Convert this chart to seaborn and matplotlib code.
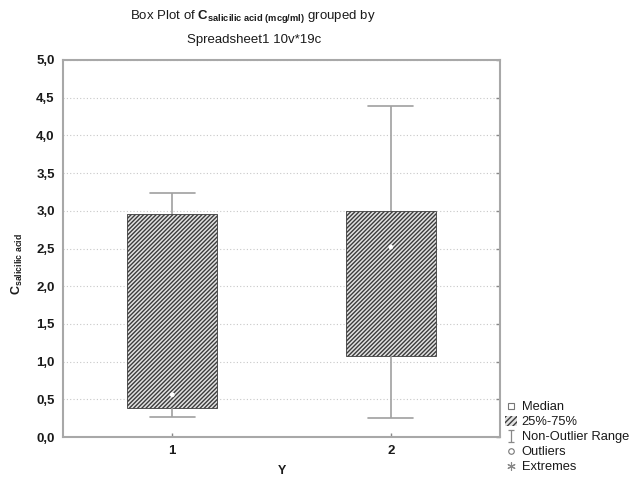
import numpy as np
import pandas as pd
import matplotlib
matplotlib.use("Agg")
import matplotlib.pyplot as plt
import seaborn as sns
from matplotlib.lines import Line2D
from matplotlib.patches import Patch
from matplotlib.path import Path
from matplotlib.ticker import FuncFormatter, MultipleLocator

# ---- data ----
categories = ["1", "2"]
whisker_low = [0.27, 0.25]
q1 = [0.38, 1.07]
median = [0.56, 2.52]
q3 = [2.96, 3.00]
whisker_high = [3.24, 4.39]
legend_labels = ["Median", "25%-75%", "Non-Outlier Range", "Outliers", "Extremes"]

rows = []
for i, c in enumerate(categories):
    for v in (whisker_low[i], q1[i], median[i], q3[i], whisker_high[i]):
        rows.append({"Y": c, "C": v})
df = pd.DataFrame(rows)
med_df = pd.DataFrame({"Y": categories, "C": median})

sns.set_theme(style="white")
plt.rcParams["font.family"] = ["Liberation Sans", "DejaVu Sans"]
plt.rcParams["mathtext.fontset"] = "custom"
plt.rcParams["mathtext.rm"] = "Liberation Sans"
plt.rcParams["mathtext.bf"] = "Liberation Sans:bold"
plt.rcParams["mathtext.it"] = "Liberation Sans:italic"
plt.rcParams["hatch.linewidth"] = 1.0

fig = plt.figure(figsize=(6.35, 4.79), dpi=100)
ax = fig.add_axes([63 / 635, 1 - 437 / 479, 437 / 635, 377 / 479])

grey = "#a0a0a0"
HATCH = "////////"
sns.boxplot(data=df, x="Y", y="C", order=categories, width=0.41,
            color="#e2e2e2", linecolor=grey, linewidth=1.2, showfliers=False,
            medianprops={"visible": False}, ax=ax)
for p in ax.patches:
    p.set_hatch(HATCH)
    p.set_facecolor("#e2e2e2")
    p.set_edgecolor("#3c3c3c")
    p.set_linewidth(0.6)

sns.scatterplot(data=med_df, x="Y", y="C", marker="o", s=12, color="white",
                edgecolor="none", linewidth=0, ax=ax, zorder=5)

ax.set_xlim(-0.5, 1.5)
ax.set_ylim(0, 5)
ax.yaxis.set_major_locator(MultipleLocator(0.5))
ax.yaxis.set_major_formatter(FuncFormatter(lambda v, p: f"{v:.1f}".replace(".", ",")))
ax.grid(axis="y", linestyle=(0, (1, 2)), color="#c8c8c8", linewidth=0.8)
ax.set_axisbelow(True)
for s in ax.spines.values():
    s.set_color("#a8a8a8")
    s.set_linewidth(1.5)
ax.tick_params(axis="both", direction="in", length=3, width=1, color="#888888",
               labelsize=9.5, labelcolor="#1a1a1a", pad=6)
ax.tick_params(axis="y", right=True, left=False)
ax.tick_params(axis="x", bottom=True)
for t in ax.get_xticklabels() + ax.get_yticklabels():
    t.set_fontweight("bold")

ax.set_xlabel("Y", fontsize=9, fontweight="bold", color="#1a1a1a")
ax.xaxis.set_label_coords(0.5, -0.075)
ax.set_ylabel(r"$\mathbf{C}_{\mathbf{salicilic\ acid}}$", fontsize=9, color="#1a1a1a")
ax.yaxis.set_label_coords(-38 / 437, 0.46)

fig.text(253 / 635, 1 - 17 / 479,
         r"Box Plot of $\mathbf{C}_{\mathbf{salicilic\ acid\ (mcg/ml)}}$ grouped by",
         ha="center", va="center", fontsize=9.5, color="#1a1a1a")
fig.text(254 / 635, 1 - 40 / 479, "Spreadsheet1 10v*19c",
         ha="center", va="center", fontsize=9.5, color="#1a1a1a")

i_marker = Path([(-0.5, 1), (0.5, 1), (0, 1), (0, -1), (-0.5, -1), (0.5, -1)],
                [Path.MOVETO, Path.LINETO, Path.MOVETO, Path.LINETO, Path.MOVETO, Path.LINETO])
handles = [
    Line2D([], [], marker="s", linestyle="none", markersize=5,
           markerfacecolor="white", markeredgecolor="#777777", markeredgewidth=0.8),
    Patch(facecolor="#e2e2e2", edgecolor="#3c3c3c", hatch="//////", linewidth=0),
    Line2D([], [], marker=i_marker, linestyle="none", markersize=9,
           markerfacecolor="none", markeredgecolor="#888888", markeredgewidth=0.9),
    Line2D([], [], marker="o", linestyle="none", markersize=4,
           markerfacecolor="white", markeredgecolor="#777777", markeredgewidth=0.8),
    Line2D([], [], marker=(6, 2, 0), linestyle="none", markersize=6,
           color="#888888", markeredgewidth=0.8),
]
fig.legend(handles, legend_labels, loc="upper left",
           bbox_to_anchor=(505 / 635, 1 - 401 / 479), frameon=False,
           fontsize=9.3, handlelength=0.9, handleheight=0.8, handletextpad=0.4,
           labelspacing=0.2, borderpad=0, borderaxespad=0, labelcolor="#1a1a1a")

fig.savefig("out.png", dpi=100)
